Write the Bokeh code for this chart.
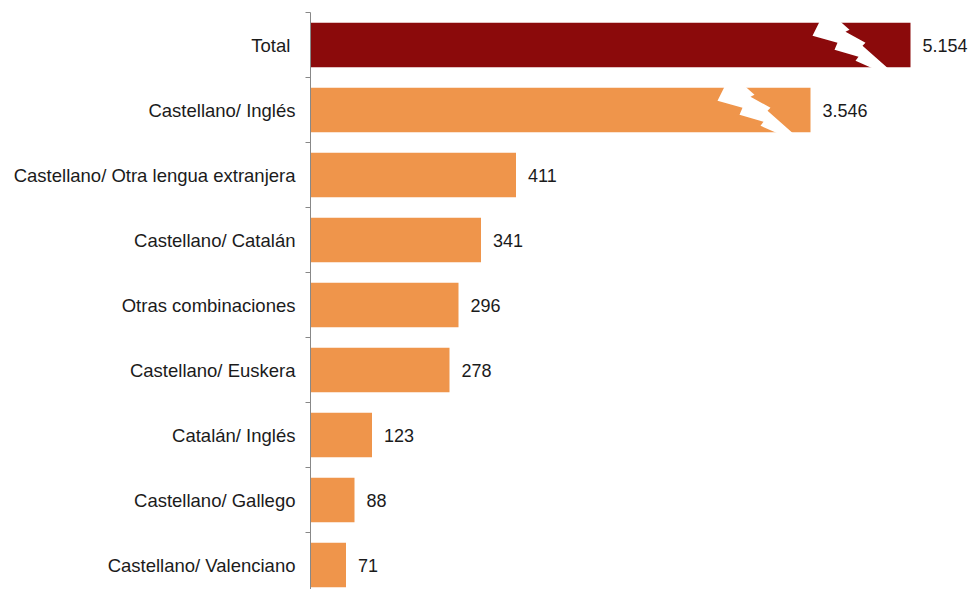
from bokeh.plotting import figure
from bokeh.models import Range1d, FixedTicker, ColumnDataSource
from bokeh.core.properties import value
from bokeh.embed import file_html
from bokeh.resources import INLINE

# ---- data ----
categories = [
    "Total ",
    "Castellano/ Inglés",
    "Castellano/ Otra lengua extranjera",
    "Castellano/ Catalán",
    "Otras combinaciones",
    "Castellano/ Euskera",
    "Catalán/ Inglés",
    "Castellano/ Gallego",
    "Castellano/ Valenciano",
]
values = [5154, 3546, 411, 341, 296, 278, 123, 88, 71]
bar_colors = ["#8B0A0B"] + ["#EF954B"] * 8
# broken (truncated) bars: length shown on the axis scale
broken_shown = {"Total ": 1200, "Castellano/ Inglés": 1000}
# where the white break mark sits, px relative to the bar end
break_offset_px = {"Total ": -1, "Castellano/ Inglés": 4}

# ---- layout ----
W, H = 969, 589
LEFT, TOP = 310, 12
PX_PER_UNIT = 0.5
ROW_PX = 65
BAR_H = 0.685
FONT = "Liberation Sans"

frame_w = W - LEFT
frame_h = H - TOP
x_end = frame_w / PX_PER_UNIT
y_bottom = -0.5 + frame_h / ROW_PX

ys = list(range(len(categories)))
shown = [broken_shown.get(c, v) for c, v in zip(categories, values)]
labels = [f"{v:,}".replace(",", ".") for v in values]

src = ColumnDataSource(dict(y=ys, shown=shown, color=bar_colors, label=labels))

p = figure(width=W, height=H, output_backend="svg", toolbar_location=None,
           x_range=Range1d(0, x_end), y_range=Range1d(y_bottom, -0.5),
           min_border_left=LEFT, min_border_top=TOP, min_border_bottom=0,
           min_border_right=0, x_axis_location=None, y_axis_location="left",
           outline_line_color=None, background_fill_color="white",
           border_fill_color="white")
p.xgrid.visible = False
p.ygrid.visible = False

p.hbar(y="y", left=0, right="shown", height=BAR_H, fill_color="color",
       line_color=None, source=src)

# white "break" marks on truncated bars (template in px, relative to bar end / bar top)
template = [(-90, -1), (-69, -1), (-60, 7), (-64, 9), (-44, 20), (-47, 23),
            (-21, 46), (-36, 46), (-54, 38), (-51, 34), (-75, 27), (-72, 20),
            (-97, 13)]
bx, by = [], []
for c, s, y in zip(categories, shown, ys):
    if c in broken_shown:
        top = y - BAR_H / 2
        off = break_offset_px[c]
        bx.append([s + (dx + off) / PX_PER_UNIT for dx, dy in template])
        by.append([top + dy / ROW_PX for dx, dy in template])
p.patches(xs=bx, ys=by, fill_color="white", line_color=None)

p.text(x="shown", y="y", text="label", x_offset=12, text_baseline="middle",
       text_align="left", text_font=value(FONT), text_font_size="18px",
       text_color="#1b1b1b", source=src)

ax = p.yaxis[0]
ax.ticker = FixedTicker(ticks=ys, minor_ticks=[i - 0.5 for i in range(len(ys) + 1)])
ax.major_label_overrides = {i: c for i, c in enumerate(categories)}
ax.major_tick_out = 0
ax.major_tick_in = 0
ax.minor_tick_out = 5
ax.minor_tick_in = 0
ax.minor_tick_line_color = "#888888"
ax.axis_line_color = "#888888"
ax.major_label_standoff = 10
ax.major_label_text_font = FONT
ax.major_label_text_font_size = "18.5px"
ax.major_label_text_color = "#1b1b1b"

open("out.html", "w").write(file_html(p, INLINE))
